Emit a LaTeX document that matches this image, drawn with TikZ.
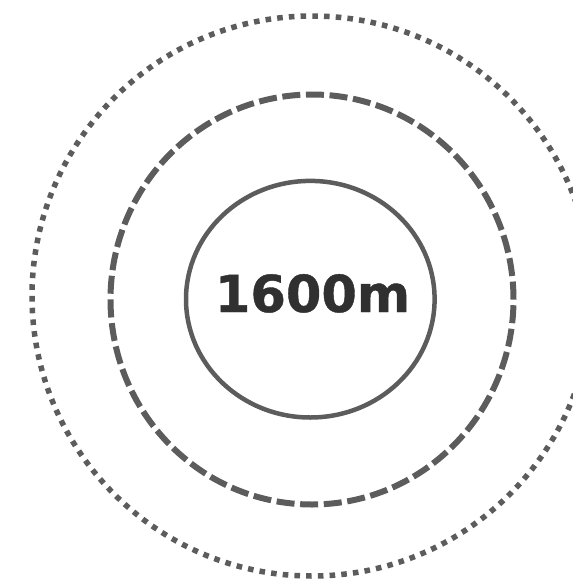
\documentclass[tikz,border=0pt]{standalone}
\usepackage{xcolor}
\usepackage{tikz}
\usepackage{fontspec}
\setsansfont{DejaVu Sans}[BoldFeatures={FakeBold=0.8}]
\usetikzlibrary{positioning, calc}
\definecolor{ringgray}{HTML}{5C5C5C}
\definecolor{darkgray}{HTML}{303030}
\tikzset{
  innerring/.style={draw=ringgray, line width=4.5pt},
  dashring/.style={
    draw=ringgray, line width=6pt,
    dash pattern=on 18pt off 5.65pt,
  },
  dotring/.style={
    draw=ringgray, line width=5.5pt,
    dash pattern=on 5.6pt off 6.13pt,
  },
  distlabel/.style={
    font=\sffamily\bfseries\fontsize{51}{56}\selectfont,
    text=darkgray, inner sep=0pt, anchor=base,
  },
}

\begin{document}
\begin{tikzpicture}[x=1pt, y=-1pt]

  \useasboundingbox (0,0) rectangle (573,579);
  \clip (0,0) rectangle (573,579);

  \coordinate (c) at (312,297);

  % rings, from the outside in
  \draw[dotring] (c) ++(-280,-1) arc[start angle=180, end angle=-180, radius=280];
  \draw[dashring] ($(c)+(-201.5,2.5)$) arc[start angle=180, end angle=-180, x radius=201.5, y radius=205];
  \draw[innerring] ($(c)+(-1.7,2.2)$) ellipse[x radius=124.3, y radius=118.3];

  \node[distlabel] (dist) at (312.5,312) {1600m};

\end{tikzpicture}
\end{document}
